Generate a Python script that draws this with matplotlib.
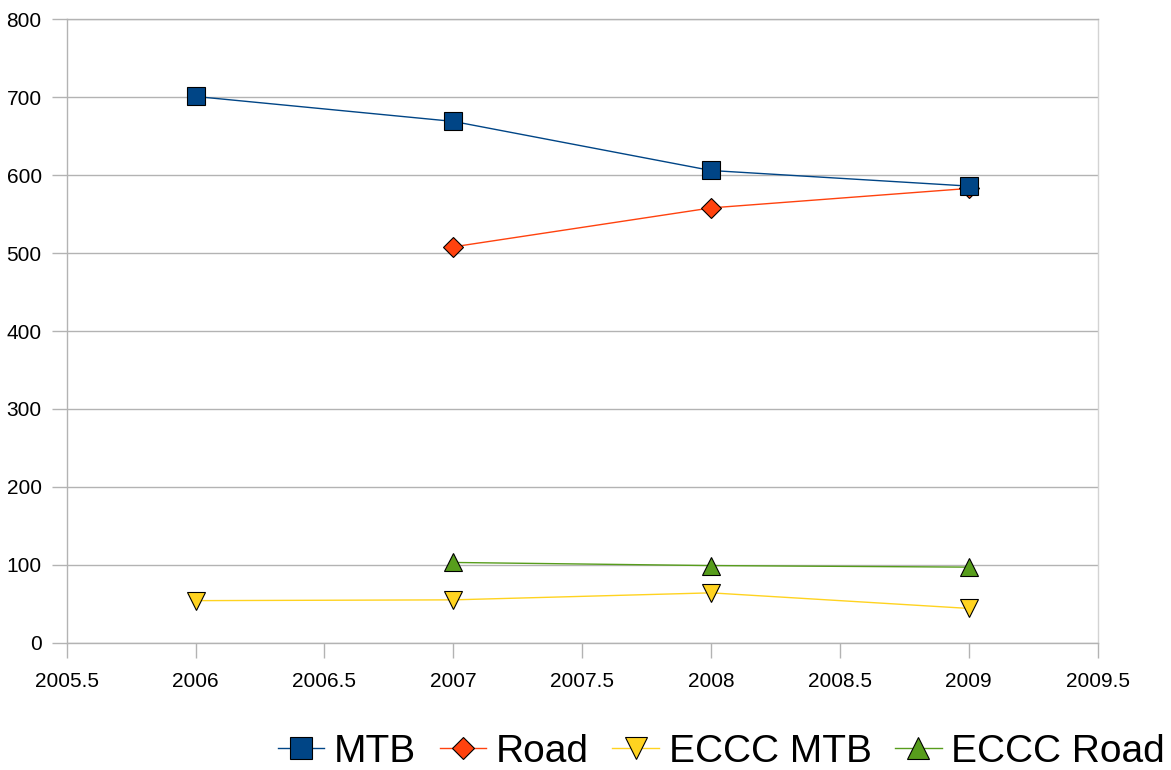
import matplotlib.pyplot as plt
from matplotlib.ticker import FuncFormatter, MultipleLocator

plt.rcParams['font.family'] = ['Liberation Sans', 'DejaVu Sans']

# data
years = [2006, 2007, 2008, 2009]
mtb = [701, 669, 606, 586]
road_years = [2007, 2008, 2009]
road = [508, 558, 583]
eccc_mtb = [54, 55, 64, 44]
eccc_road_years = [2007, 2008, 2009]
eccc_road = [103, 99, 97]

grid_col = '#b3b3b3'

fig = plt.figure(figsize=(11.71, 7.70), dpi=100)
ax = fig.add_axes([0.0569, 0.1653, 0.9374 - 0.0569, 0.9749 - 0.1653])

ms = 13.5
# MTB drawn on top so its square covers the 2009 road diamond
ax.plot(years, mtb, color='#004586', lw=1, marker='s', ms=ms,
        mfc='#004586', mec='black', mew=0.8, label='MTB', zorder=5)
ax.plot(road_years, road, color='#ff420e', lw=1, marker='D', ms=ms * 0.72,
        mfc='#ff420e', mec='black', mew=0.8, label='Road', zorder=4)
ax.plot(years, eccc_mtb, color='#ffd320', lw=1, marker='v', ms=ms,
        mfc='#ffd320', mec='black', mew=0.8, label='ECCC MTB', zorder=4)
ax.plot(eccc_road_years, eccc_road, color='#579d1c', lw=1, marker='^', ms=ms,
        mfc='#579d1c', mec='black', mew=0.8, label='ECCC Road', zorder=4)

ax.set_xlim(2005.5, 2009.5)
ax.set_ylim(0, 800)
ax.xaxis.set_major_locator(MultipleLocator(0.5))
ax.yaxis.set_major_locator(MultipleLocator(100))
ax.xaxis.set_major_formatter(FuncFormatter(lambda v, p: '%g' % v))
ax.yaxis.set_major_formatter(FuncFormatter(lambda v, p: '%g' % v))

ax.grid(axis='y', color=grid_col, lw=1)
ax.set_axisbelow(True)
for s in ['left', 'bottom', 'top']:
    ax.spines[s].set_color(grid_col)
    ax.spines[s].set_linewidth(1)
ax.spines['right'].set_color('#d3d3d3')
ax.spines['right'].set_linewidth(1)

ax.tick_params(axis='both', direction='out', length=11, width=1,
               color=grid_col, labelsize=15, pad=7)
ax.tick_params(axis='x', pad=10)

fig.legend(loc='center right', bbox_to_anchor=(1165 / 1171, 1 - 752 / 770),
           ncol=4, frameon=False, fontsize=28, borderpad=0, borderaxespad=0,
           handlelength=1.2, handletextpad=0.25, columnspacing=0.6,
           markerscale=1.2)

fig.savefig('out.png', dpi=100)
